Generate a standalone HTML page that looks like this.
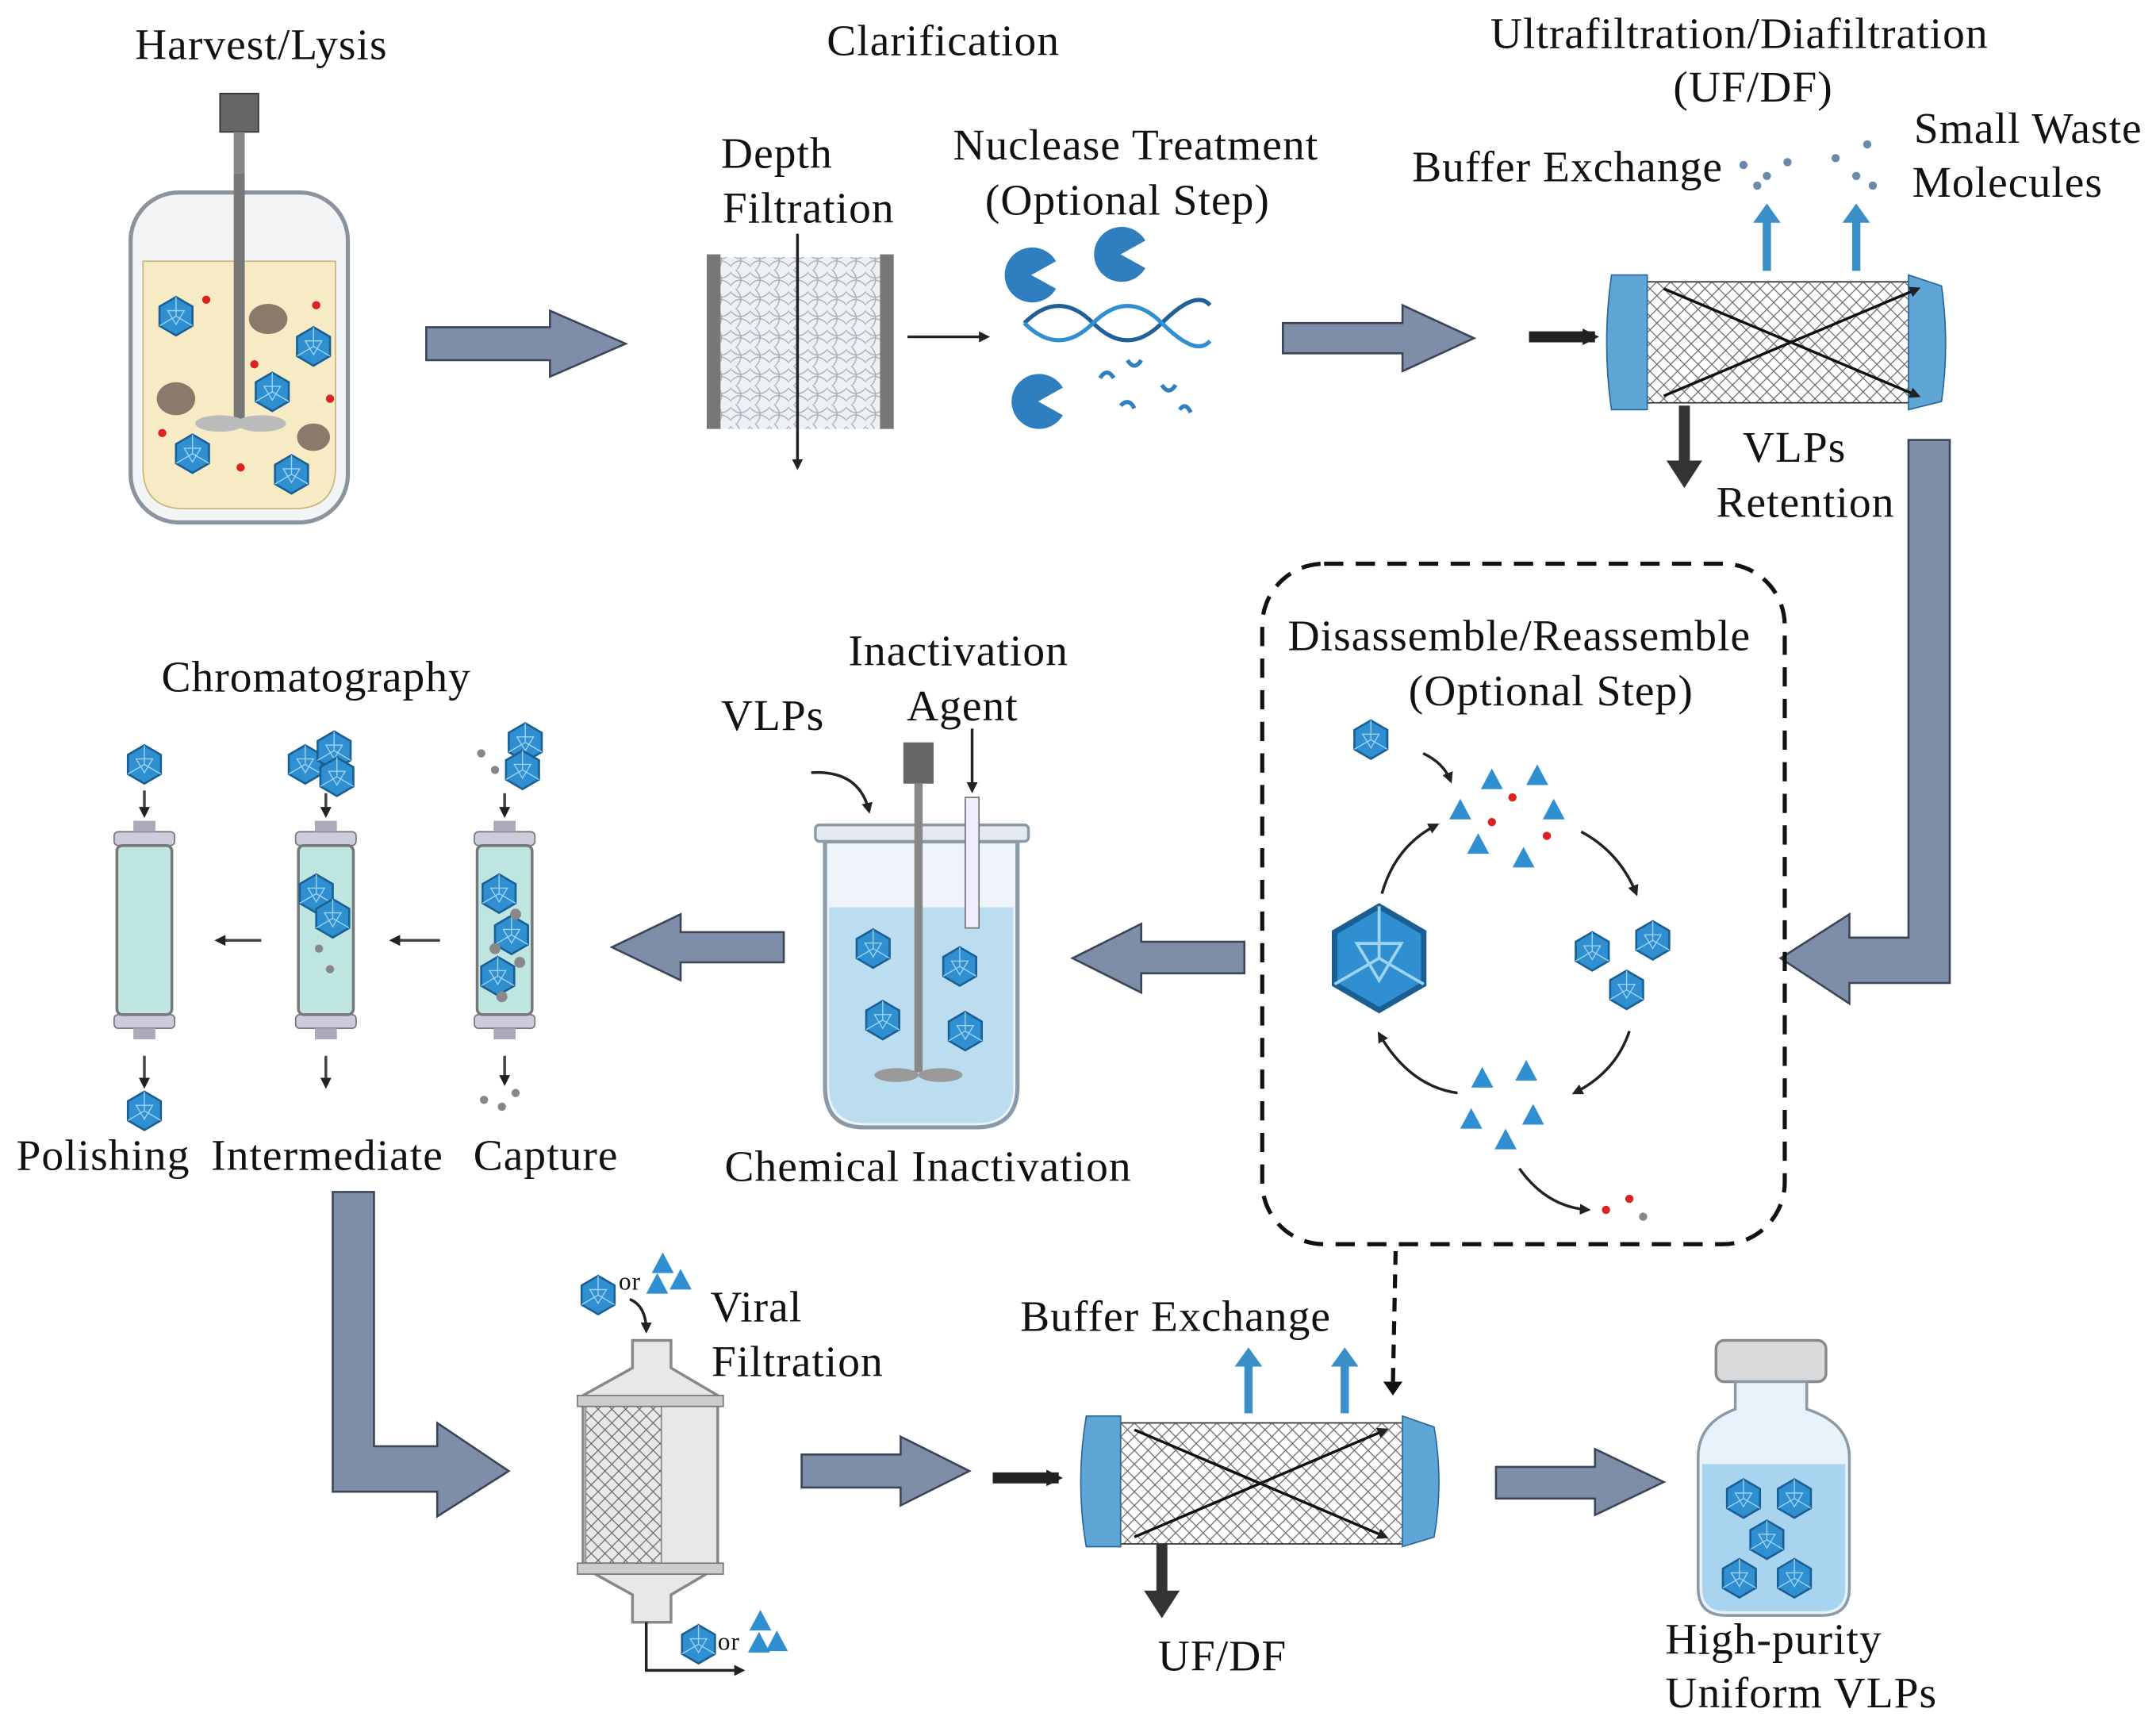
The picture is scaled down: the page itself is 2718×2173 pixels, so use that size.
<!DOCTYPE html>
<html><head><meta charset="utf-8"><style>
html,body{margin:0;padding:0;background:#fff;}
svg{display:block;}
text{font-family:"Liberation Serif",serif;fill:#111;font-size:32px;letter-spacing:0.6px;}
</style></head><body>
<svg width="2718" height="2173" viewBox="0 0 1568 1254" preserveAspectRatio="none" xmlns="http://www.w3.org/2000/svg">
<defs>
<g id="hex"><polygon points="0,-14 12,-7 12,7 0,14 -12,7 -12,-7" fill="#2f8fd0" stroke="#1a5f94" stroke-width="1.5"/><path d="M0,-14 L0,0 M-12,7 L0,0 L12,7 M-6,-4 L6,-4 L0,6 Z" stroke="#9fd3f2" stroke-width="0.8" fill="none"/></g>
<g id="tri"><polygon points="0,-9 8,6 -8,6" fill="#2f8fd0"/></g>
<g id="col"><rect x="-22" y="605" width="44" height="10" rx="3" fill="#ccd" stroke="#777"/><rect x="-22" y="738" width="44" height="10" rx="3" fill="#ccd" stroke="#777"/><rect x="-20" y="615" width="40" height="123" rx="4" fill="#bfe5e0" stroke="#777" stroke-width="2"/><rect x="-8" y="597" width="16" height="8" fill="#aab"/><rect x="-8" y="748" width="16" height="8" fill="#aab"/></g>
<marker id="ah" markerWidth="8" markerHeight="8" refX="6" refY="4" orient="auto" markerUnits="userSpaceOnUse"><path d="M0,0 L8,4 L0,8 Z" fill="#222"/></marker>
<marker id="ahb" markerWidth="12" markerHeight="12" refX="9" refY="6" orient="auto" markerUnits="userSpaceOnUse"><path d="M0,0 L12,6 L0,12 Z" fill="#222"/></marker>
<pattern id="mesh" width="10" height="10" patternUnits="userSpaceOnUse"><path d="M0,0 L10,10 M10,0 L0,10" stroke="#666" stroke-width="0.7"/></pattern>
<pattern id="fib" width="14" height="14" patternUnits="userSpaceOnUse"><rect width="14" height="14" fill="#eef1f4"/><path d="M0,3 Q7,10 14,2 M0,11 Q6,4 14,12 M3,0 Q10,7 4,14" stroke="#aab" stroke-width="0.8" fill="none"/></pattern>
</defs>

<!-- Harvest -->
<text x="190" y="43" text-anchor="middle">Harvest/Lysis</text>
<rect x="160" y="68" width="28" height="28" fill="#666" stroke="#333"/>
<rect x="170" y="96" width="8" height="30" fill="#888"/>
<rect x="95" y="140" width="158" height="240" rx="35" fill="#f2f4f6" stroke="#8b949c" stroke-width="3"/>
<path d="M104,190 L244,190 L244,340 Q244,370 214,370 L134,370 Q104,370 104,340 Z" fill="#f6ebc4" stroke="#c9b87a"/>
<rect x="170" y="126" width="8" height="180" fill="#777"/>
<ellipse cx="160" cy="308" rx="18" ry="6" fill="#bbb"/><ellipse cx="190" cy="308" rx="18" ry="6" fill="#bbb"/>
<use href="#hex" x="128" y="230"/><use href="#hex" x="228" y="252"/><use href="#hex" x="198" y="285"/><use href="#hex" x="140" y="330"/><use href="#hex" x="212" y="345"/>
<ellipse cx="195" cy="232" rx="14" ry="11" fill="#8a7a6a"/><ellipse cx="128" cy="290" rx="14" ry="12" fill="#8a7a6a"/><ellipse cx="228" cy="318" rx="12" ry="10" fill="#8a7a6a"/>
<g fill="#d22"><circle cx="150" cy="218" r="3"/><circle cx="230" cy="222" r="3"/><circle cx="118" cy="315" r="3"/><circle cx="185" cy="265" r="3"/><circle cx="175" cy="340" r="3"/><circle cx="240" cy="290" r="3"/></g>

<!-- big arrows -->
<g fill="#7f8ea8" stroke="#3a4556" stroke-width="1.5">
<polygon points="310,238 400,238 400,226 455,250 400,274 400,262 310,262"/>
<polygon points="933,235 1020,235 1020,222 1072,246 1020,270 1020,257 933,257"/>
<polygon points="1388,320 1418,320 1418,715 1345,715 1345,730 1295,697 1345,665 1345,682 1388,682"/>
<polygon points="905,685 830,685 830,672 780,697 830,722 830,708 905,708"/>
<polygon points="570,678 495,678 495,665 445,689 495,713 495,700 570,700"/>
<polygon points="242,867 272,867 272,1052 318,1052 318,1035 370,1070 318,1103 318,1085 242,1085"/>
<polygon points="583,1058 655,1058 655,1045 705,1070 655,1095 655,1082 583,1082"/>
<polygon points="1088,1067 1160,1067 1160,1054 1210,1078 1160,1102 1160,1090 1088,1090"/>
</g>

<!-- Clarification -->
<text x="686" y="40" text-anchor="middle">Clarification</text>
<text x="565" y="122" text-anchor="middle">Depth</text>
<text x="588" y="162" text-anchor="middle">Filtration</text>
<rect x="522" y="187" width="122" height="125" fill="url(#fib)"/>
<rect x="514" y="185" width="10" height="127" fill="#777"/><rect x="640" y="185" width="10" height="127" fill="#777"/>
<line x1="580" y1="170" x2="580" y2="340" stroke="#222" stroke-width="2" marker-end="url(#ah)"/>
<line x1="660" y1="245" x2="718" y2="245" stroke="#222" stroke-width="2" marker-end="url(#ah)"/>
<text x="826" y="116" text-anchor="middle">Nuclease Treatment</text>
<text x="820" y="156" text-anchor="middle">(Optional Step)</text>
<g fill="#2f7fc0"><path d="M750,200 L768,190 A20,20 0 1,0 768,210 Z"/><path d="M815,185 L833,175 A20,20 0 1,0 833,195 Z"/><path d="M755,292 L773,282 A20,20 0 1,0 773,302 Z"/></g>
<path d="M745,235 Q770,210 795,235 T845,235 T880,222" stroke="#1f5f9a" stroke-width="3" fill="none"/>
<path d="M745,235 Q770,260 795,235 T845,235 T880,248" stroke="#2f8fd0" stroke-width="3" fill="none"/>
<g stroke="#2f7fc0" stroke-width="3" fill="none"><path d="M800,275 q5,-8 10,0"/><path d="M820,262 q5,8 10,0"/><path d="M815,295 q6,-6 10,2"/><path d="M845,280 q5,8 10,0"/><path d="M858,298 q4,-6 8,2"/></g>

<!-- UF/DF top -->
<text x="1265" y="35" text-anchor="middle">Ultrafiltration/Diafiltration</text>
<text x="1275" y="74" text-anchor="middle">(UF/DF)</text>
<text x="1140" y="132" text-anchor="middle">Buffer Exchange</text>
<text x="1475" y="104" text-anchor="middle">Small Waste</text>
<text x="1460" y="143" text-anchor="middle">Molecules</text>
<g fill="#6a8aa8"><circle cx="1268" cy="120" r="3"/><circle cx="1285" cy="128" r="3"/><circle cx="1300" cy="118" r="3"/><circle cx="1278" cy="135" r="3"/><circle cx="1335" cy="115" r="3"/><circle cx="1350" cy="128" r="3"/><circle cx="1362" cy="135" r="3"/><circle cx="1358" cy="105" r="3"/></g>
<rect x="1195" y="205" width="195" height="88" fill="url(#mesh)" stroke="#333"/>
<path d="M1172,200 L1198,200 L1198,298 L1172,298 Q1165,250 1172,200Z" fill="#5fa6d6" stroke="#2a6a9a"/>
<path d="M1388,200 L1412,208 Q1418,250 1412,292 L1388,298 Z" fill="#5fa6d6" stroke="#2a6a9a"/>
<line x1="1210" y1="210" x2="1395" y2="288" stroke="#111" stroke-width="2" marker-end="url(#ah)"/>
<line x1="1210" y1="288" x2="1395" y2="210" stroke="#111" stroke-width="2" marker-end="url(#ah)"/>
<line x1="1112" y1="245" x2="1160" y2="245" stroke="#222" stroke-width="8" marker-end="url(#ahb)"/>
<g stroke="#3a8fc8" stroke-width="6"><line x1="1285" y1="197" x2="1285" y2="160"/><line x1="1350" y1="197" x2="1350" y2="160"/></g>
<g fill="#3a8fc8"><polygon points="1275,162 1295,162 1285,148"/><polygon points="1340,162 1360,162 1350,148"/></g>
<line x1="1225" y1="295" x2="1225" y2="340" stroke="#333" stroke-width="8"/><polygon points="1212,335 1238,335 1225,355" fill="#333"/>
<text x="1305" y="336" text-anchor="middle">VLPs</text>
<text x="1313" y="376" text-anchor="middle">Retention</text>

<!-- Dashed box -->
<rect x="918" y="410" width="380" height="495" rx="45" fill="none" stroke="#111" stroke-width="3" stroke-dasharray="14,9"/>
<text x="1105" y="473" text-anchor="middle">Disassemble/Reassemble</text>
<text x="1128" y="513" text-anchor="middle">(Optional Step)</text>
<use href="#hex" x="997" y="538"/>
<g transform="translate(1003,697) scale(2.7)"><use href="#hex"/></g>
<use href="#hex" x="1158" y="692"/><use href="#hex" x="1202" y="684"/><use href="#hex" x="1183" y="720"/>
<use href="#tri" x="1085" y="568"/><use href="#tri" x="1118" y="565"/><use href="#tri" x="1062" y="590"/><use href="#tri" x="1130" y="590"/><use href="#tri" x="1075" y="615"/><use href="#tri" x="1108" y="625"/>
<g fill="#d22"><circle cx="1100" cy="580" r="3"/><circle cx="1085" cy="598" r="3"/><circle cx="1125" cy="608" r="3"/></g>
<use href="#tri" x="1078" y="785"/><use href="#tri" x="1110" y="780"/><use href="#tri" x="1070" y="815"/><use href="#tri" x="1115" y="812"/><use href="#tri" x="1095" y="830"/>
<g fill="none" stroke="#222" stroke-width="2" marker-end="url(#ah)"><path d="M1035,548 Q1050,555 1055,568"/><path d="M1005,650 Q1015,615 1045,600"/><path d="M1150,605 Q1178,620 1190,650"/><path d="M1185,750 Q1175,780 1145,795"/><path d="M1060,795 Q1025,790 1003,752"/><path d="M1105,850 Q1125,878 1155,880"/></g>
<g fill="#d22"><circle cx="1168" cy="880" r="3"/><circle cx="1185" cy="872" r="3"/></g><circle cx="1195" cy="885" r="3" fill="#888"/>
<line x1="1015" y1="910" x2="1013" y2="1008" stroke="#111" stroke-width="3" stroke-dasharray="10,7"/>
<polygon points="1006,1005 1020,1005 1013,1015" fill="#111"/>

<!-- Inactivation -->
<text x="697" y="484" text-anchor="middle">Inactivation</text>
<text x="700" y="524" text-anchor="middle">Agent</text>
<text x="562" y="531" text-anchor="middle">VLPs</text>
<path d="M600,612 L740,612 L740,790 Q740,820 710,820 L628,820 Q600,820 600,790 Z" fill="#eef4fa" stroke="#8a9aa8" stroke-width="3"/>
<rect x="593" y="600" width="155" height="12" rx="3" fill="#e4eaf0" stroke="#8a9aa8" stroke-width="2"/>
<path d="M603,660 L737,660 L737,790 Q737,817 710,817 L630,817 Q603,817 603,790 Z" fill="#bcdcf0"/>
<rect x="657" y="540" width="22" height="30" fill="#666"/><rect x="665" y="570" width="6" height="210" fill="#888"/>
<ellipse cx="652" cy="782" rx="16" ry="5" fill="#999"/><ellipse cx="684" cy="782" rx="16" ry="5" fill="#999"/>
<rect x="702" y="580" width="10" height="95" fill="#eef" stroke="#777"/>
<line x1="707" y1="530" x2="707" y2="575" stroke="#222" stroke-width="2" marker-end="url(#ah)"/>
<path d="M590,562 Q625,560 632,590" stroke="#222" stroke-width="2" fill="none" marker-end="url(#ah)"/>
<use href="#hex" x="635" y="690"/><use href="#hex" x="698" y="703"/><use href="#hex" x="642" y="742"/><use href="#hex" x="702" y="750"/>
<text x="675" y="859" text-anchor="middle">Chemical  Inactivation</text>

<!-- Chromatography -->
<text x="230" y="503" text-anchor="middle">Chromatography</text>
<use href="#col" x="105"/><use href="#col" x="237"/><use href="#col" x="367"/>
<use href="#hex" x="105" y="556"/><use href="#hex" x="105" y="808"/>
<use href="#hex" x="222" y="556"/><use href="#hex" x="243" y="546"/><use href="#hex" x="245" y="565"/><use href="#hex" x="230" y="650"/><use href="#hex" x="242" y="668"/>
<use href="#hex" x="363" y="650"/><use href="#hex" x="372" y="680"/><use href="#hex" x="362" y="710"/><use href="#hex" x="382" y="540"/><use href="#hex" x="380" y="560"/>
<g fill="#888"><circle cx="375" cy="665" r="4"/><circle cx="360" cy="690" r="4"/><circle cx="378" cy="700" r="4"/><circle cx="365" cy="725" r="4"/><circle cx="352" cy="800" r="3"/><circle cx="365" cy="805" r="3"/><circle cx="375" cy="795" r="3"/><circle cx="240" cy="705" r="3"/><circle cx="232" cy="690" r="3"/><circle cx="350" cy="548" r="3"/><circle cx="360" cy="560" r="3"/></g>
<g stroke="#444" stroke-width="2" marker-end="url(#ah)"><line x1="105" y1="575" x2="105" y2="593"/><line x1="237" y1="577" x2="237" y2="593"/><line x1="367" y1="577" x2="367" y2="593"/><line x1="105" y1="768" x2="105" y2="790"/><line x1="237" y1="768" x2="237" y2="790"/><line x1="367" y1="768" x2="367" y2="788"/><line x1="190" y1="684" x2="158" y2="684"/><line x1="320" y1="684" x2="285" y2="684"/></g>
<text x="75" y="851" text-anchor="middle">Polishing</text>
<text x="238" y="851" text-anchor="middle">Intermediate</text>
<text x="397" y="851" text-anchor="middle">Capture</text>

<!-- Viral filtration -->
<text x="550" y="961" text-anchor="middle">Viral</text>
<text x="580" y="1001" text-anchor="middle">Filtration</text>
<use href="#hex" x="435" y="942"/><text x="450" y="938" style="font-size:18px">or</text>
<use href="#tri" x="482" y="920"/><use href="#tri" x="495" y="932"/><use href="#tri" x="478" y="935"/>
<path d="M458,945 Q470,950 470,968" stroke="#222" stroke-width="2" fill="none" marker-end="url(#ah)"/>
<path d="M460,975 L488,975 L488,995 L522,1015 L522,1140 L488,1160 L488,1180 L460,1180 L460,1160 L424,1140 L424,1015 L460,995 Z" fill="#e6e8ea" stroke="#888" stroke-width="2"/>
<rect x="426" y="1022" width="55" height="115" fill="url(#mesh)" stroke="#888"/>
<rect x="420" y="1015" width="106" height="8" fill="#ccc" stroke="#777"/><rect x="420" y="1137" width="106" height="8" fill="#ccc" stroke="#777"/>
<path d="M470,1180 L470,1215 L540,1215" stroke="#222" stroke-width="2" fill="none" marker-end="url(#ah)"/>
<use href="#hex" x="508" y="1196"/><text x="522" y="1200" style="font-size:18px">or</text>
<use href="#tri" x="553" y="1180"/><use href="#tri" x="565" y="1195"/><use href="#tri" x="552" y="1196"/>

<!-- UF2 -->
<text x="855" y="968" text-anchor="middle">Buffer Exchange</text>
<rect x="812" y="1035" width="210" height="88" fill="url(#mesh)" stroke="#333"/>
<path d="M790,1030 L815,1030 L815,1125 L790,1125 Q782,1078 790,1030Z" fill="#5fa6d6" stroke="#2a6a9a"/>
<path d="M1020,1030 L1043,1038 Q1050,1078 1043,1118 L1020,1125 Z" fill="#5fa6d6" stroke="#2a6a9a"/>
<line x1="825" y1="1040" x2="1008" y2="1118" stroke="#111" stroke-width="2" marker-end="url(#ah)"/>
<line x1="825" y1="1118" x2="1008" y2="1040" stroke="#111" stroke-width="2" marker-end="url(#ah)"/>
<line x1="722" y1="1075" x2="770" y2="1075" stroke="#222" stroke-width="8" marker-end="url(#ahb)"/>
<g stroke="#3a8fc8" stroke-width="6"><line x1="908" y1="1028" x2="908" y2="992"/><line x1="978" y1="1028" x2="978" y2="992"/></g>
<g fill="#3a8fc8"><polygon points="898,994 918,994 908,980"/><polygon points="968,994 988,994 978,980"/></g>
<line x1="845" y1="1123" x2="845" y2="1160" stroke="#333" stroke-width="8"/><polygon points="832,1157 858,1157 845,1177" fill="#333"/>
<text x="889" y="1215" text-anchor="middle">UF/DF</text>

<!-- Vial -->
<rect x="1248" y="975" width="80" height="30" rx="6" fill="#d8dadc" stroke="#888" stroke-width="2"/>
<path d="M1262,1005 L1314,1005 L1314,1025 Q1345,1035 1345,1060 L1345,1155 Q1345,1175 1325,1175 L1255,1175 Q1235,1175 1235,1155 L1235,1060 Q1235,1035 1262,1025 Z" fill="#e8f2fa" stroke="#8a9aa8" stroke-width="2"/>
<path d="M1238,1065 L1342,1065 L1342,1155 Q1342,1172 1325,1172 L1255,1172 Q1238,1172 1238,1155 Z" fill="#a9d4f0"/>
<use href="#hex" x="1268" y="1090"/><use href="#hex" x="1305" y="1090"/><use href="#hex" x="1285" y="1120"/><use href="#hex" x="1265" y="1148"/><use href="#hex" x="1305" y="1148"/>
<text x="1290" y="1203" text-anchor="middle">High-purity</text>
<text x="1310" y="1242" text-anchor="middle">Uniform VLPs</text>
</svg>
</body></html>
